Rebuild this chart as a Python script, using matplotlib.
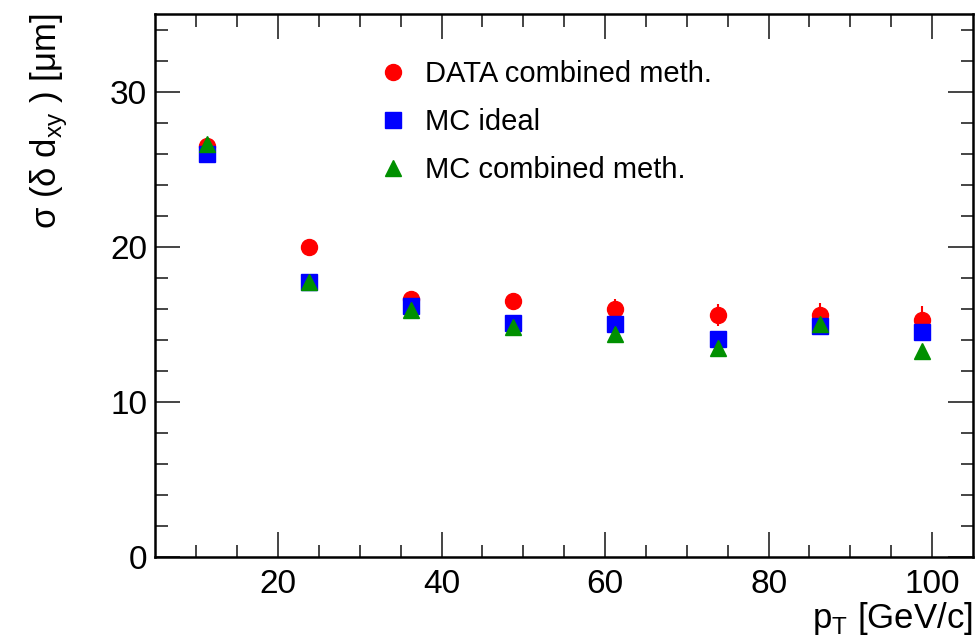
import numpy as np
import matplotlib
matplotlib.use("Agg")
import matplotlib.pyplot as plt

plt.rcParams['font.family'] = ['Liberation Sans', 'DejaVu Sans']
plt.rcParams['mathtext.fontset'] = 'custom'
plt.rcParams['mathtext.rm'] = 'Liberation Sans'

# pT bin centres [GeV/c]
pt = [11.25, 23.75, 36.25, 48.75, 61.25, 73.75, 86.25, 98.75]

# sigma(delta d_xy) [um]
data_comb = [26.5, 20.0, 16.6, 16.5, 16.0, 15.6, 15.6, 15.3]
data_comb_err = [0.1, 0.2, 0.3, 0.4, 0.65, 0.7, 0.75, 0.9]
mc_ideal = [26.0, 17.7, 16.2, 15.1, 15.0, 14.05, 14.9, 14.5]
mc_comb = [26.65, 17.75, 15.95, 14.85, 14.4, 13.5, 15.05, 13.3]

fig = plt.figure(figsize=(9.76, 6.40), dpi=100)
ax = fig.add_axes([0.1593, 0.1297, 0.8376, 0.8484])

h1 = ax.errorbar(pt, data_comb, yerr=data_comb_err, fmt='o', color='red',
                 markersize=11.5, elinewidth=1.5, capsize=0, zorder=3)
h2, = ax.plot(pt, mc_ideal, 's', color='blue', markersize=12, zorder=4)
h3, = ax.plot(pt, mc_comb, '^', color='#009000', markersize=11.5, zorder=5)

ax.set_xlim(5, 105)
ax.set_ylim(0, 35)
ax.set_xticks([20, 40, 60, 80, 100])
ax.set_xticks(np.arange(10, 105, 5), minor=True)
ax.set_yticks([0, 10, 20, 30])
ax.set_yticks(np.arange(0, 35, 2), minor=True)

ax.tick_params(which='both', direction='in', top=True, right=True,
               width=1.4, color='#444444')
ax.tick_params(which='major', length=18, labelsize=24, pad=6)
ax.tick_params(axis='x', which='major', pad=9)
ax.tick_params(which='minor', length=9)
for sp in ax.spines.values():
    sp.set_linewidth(1.8)

ax.set_xlabel(r'p$_\mathregular{T}$ [GeV/c]', fontsize=25, loc='right')
ax.xaxis.set_label_coords(1.0, -0.080)
ax.set_ylabel(r'σ (δ d$_\mathregular{xy}$ ) [μm]', fontsize=25, loc='top')
ax.yaxis.set_label_coords(-0.104, 1.0)

ax.legend(handles=[h1[0], h2, h3],
          labels=['DATA combined meth.', 'MC ideal', 'MC combined meth.'],
          loc='upper left', bbox_to_anchor=(0.273, 0.9155), frameon=False,
          fontsize=21, handlelength=1.0, handletextpad=0.6,
          labelspacing=0.69, borderpad=0, borderaxespad=0, numpoints=1)

fig.savefig('out.png', dpi=100)
